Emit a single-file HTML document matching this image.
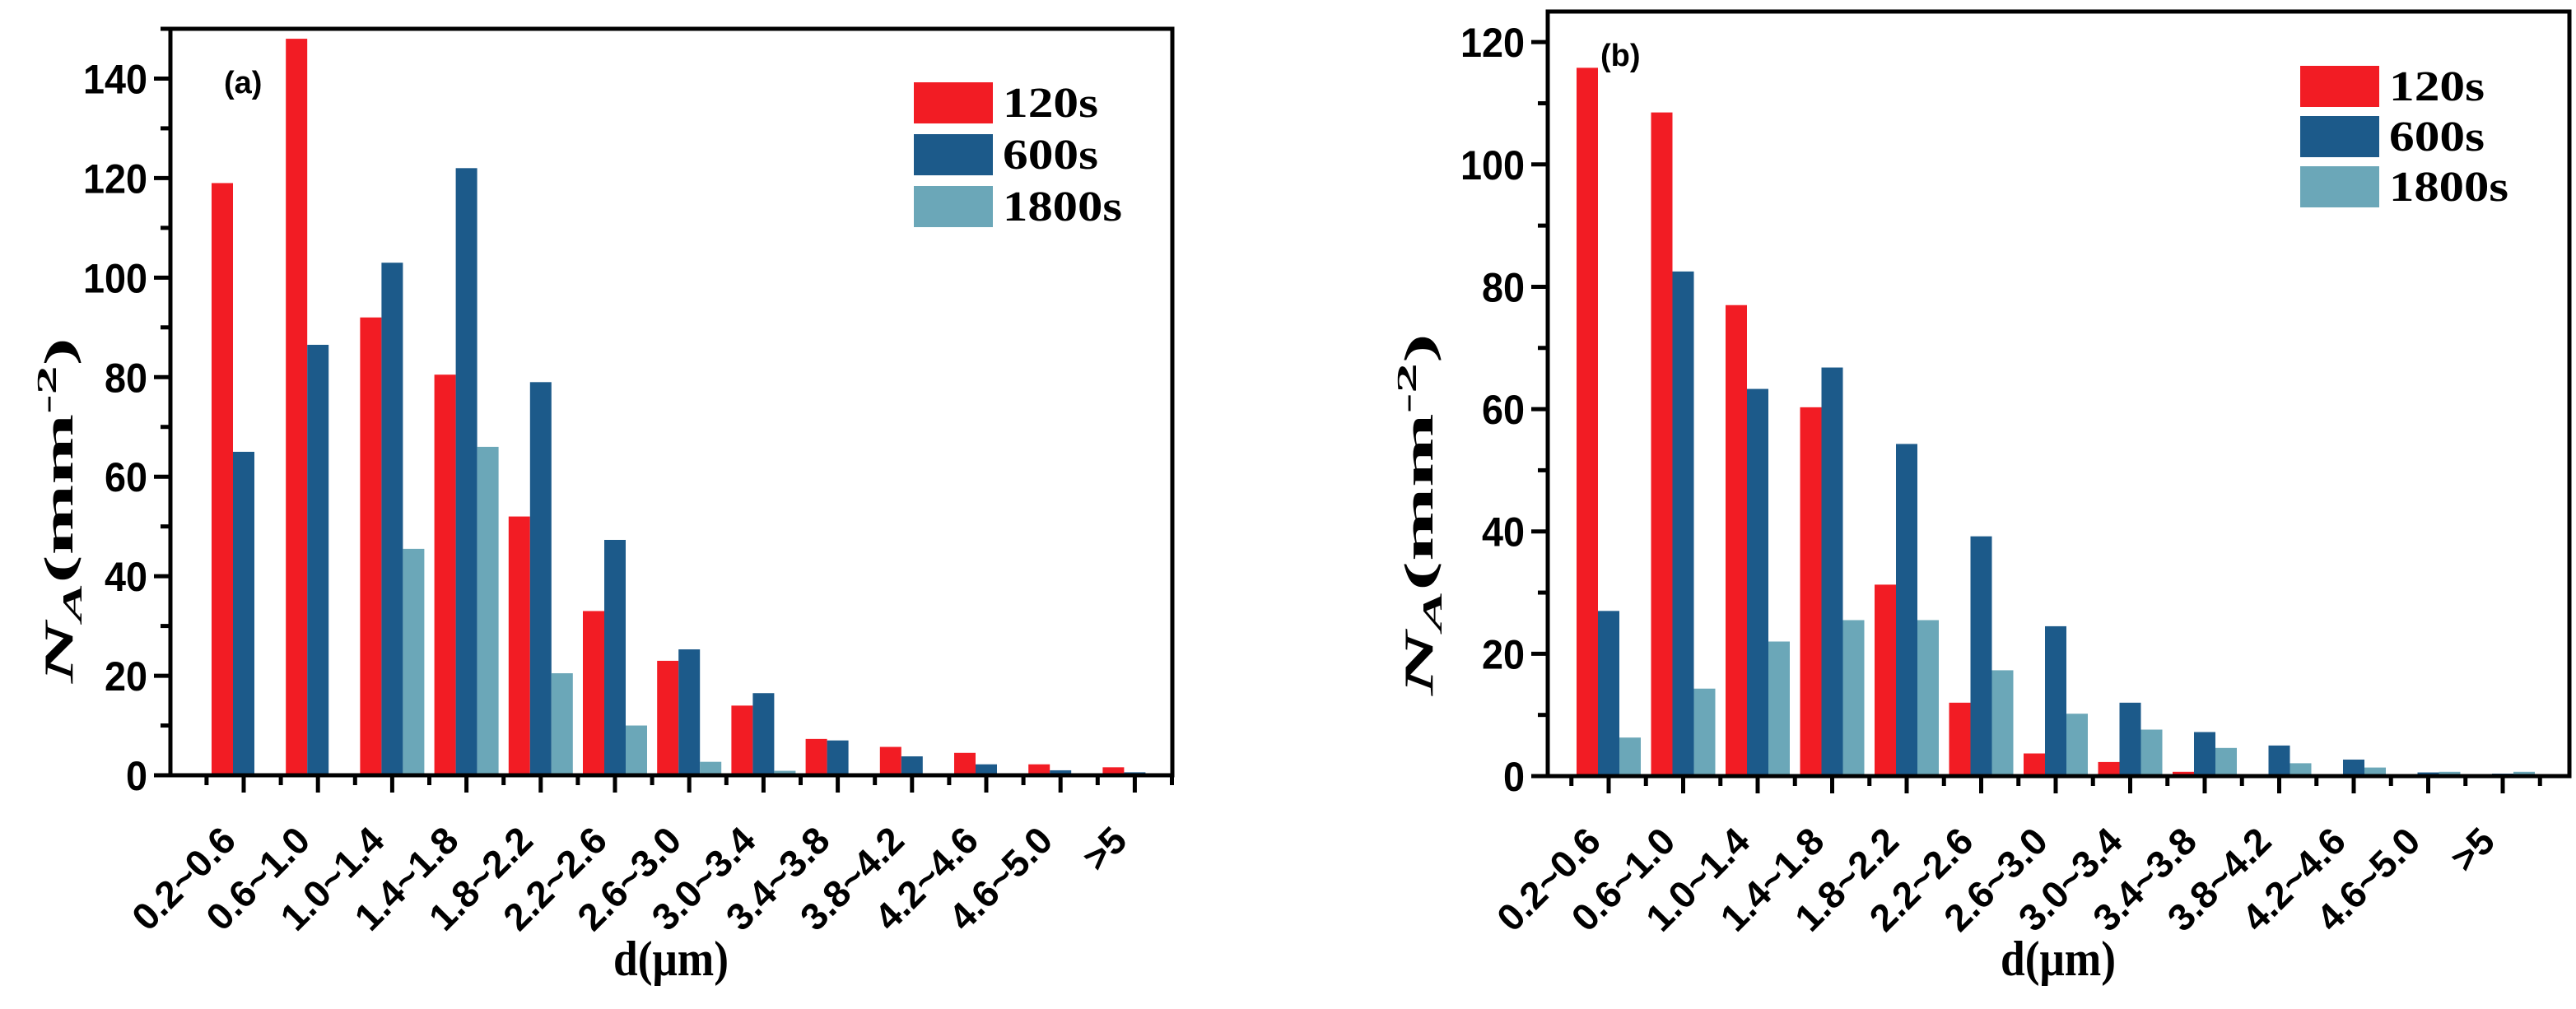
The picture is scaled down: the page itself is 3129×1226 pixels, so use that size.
<!DOCTYPE html>
<html><head><meta charset="utf-8"><style>
html,body{margin:0;padding:0;background:#fff;}
svg{display:block;}
</style></head><body>
<svg id="fig" width="3129" height="1226" viewBox="0 0 3129 1226" xmlns="http://www.w3.org/2000/svg"></svg>
<script>
const categories = ["0.2~0.6","0.6~1.0","1.0~1.4","1.4~1.8","1.8~2.2","2.2~2.6","2.6~3.0","3.0~3.4","3.4~3.8","3.8~4.2","4.2~4.6","4.6~5.0",">5"];
const seriesNames = ["120s","600s","1800s"];
const a120 = [119,148,92,80.5,52,33,23,14,7.3,5.7,4.5,2.2,1.6];
const a600 = [65,86.5,103,122,79,47.3,25.3,16.5,7,3.8,2.2,1,0.6];
const a1800 = [0,0,45.5,66,20.5,10,2.7,0.9,0.4,0,0,0,0];
const b120 = [115.8,108.5,77,60.3,31.3,12,3.7,2.3,0.7,0,0,0,0];
const b600 = [27,82.5,63.3,66.8,54.3,39.2,24.5,12,7.2,5,2.7,0.6,0.4];
const b1800 = [6.3,14.3,22,25.5,25.5,17.3,10.2,7.6,4.6,2.1,1.4,0.7,0.7];
const aTicks = [0,20,40,60,80,100,120,140];
const bTicks = [0,20,40,60,80,100,120];
const colors = ["#f21c24","#1c5a8a","#6ba7b8"];

const NS="http://www.w3.org/2000/svg";
const svg=document.getElementById('fig');
function mk(tag,attrs,parent){const e=document.createElementNS(NS,tag);for(const k in attrs)e.setAttribute(k,attrs[k]);(parent||svg).appendChild(e);return e;}

function panel(cfg){
  const g=mk('g',{});
  
  
  const yS=v=>cfg.y0-(v/cfg.yMax)*(cfg.y0-cfg.top);
  const xC=i=>cfg.c0+i*cfg.step;
  cfg.series.forEach((vals,s)=>{
    vals.forEach((v,i)=>{
      if(v<=0)return;
      const x=xC(i)-39+s*26;
      const r=mk('rect',{x:x,y:yS(v),width:26,height:cfg.y0-yS(v),fill:colors[s]},g);
      
      
    });
  });
  const f=mk('rect',{x:cfg.left,y:cfg.top,width:cfg.right-cfg.left,height:cfg.y0-cfg.top,fill:'none',stroke:'#000','stroke-width':5},g);
  
  
  for(let v=0;v<=cfg.yMax;v+=10){
    const major=v%20===0;
    mk('line',{x1:cfg.left-(major?20:12),x2:cfg.left,y1:yS(v),y2:yS(v),stroke:'#000','stroke-width':5},g);
  }
  cfg.ticks.forEach(v=>{
    const t=mk('text',{x:cfg.left-28,y:yS(v)+18,'text-anchor':'end','font-family':'Liberation Sans, sans-serif','font-weight':'bold','font-size':50,textLength:(String(v).length*26),lengthAdjust:'spacingAndGlyphs'},g);
    t.textContent=v;
    
    
  });
  for(let i=0;i<categories.length;i++){
    mk('line',{x1:xC(i),x2:xC(i),y1:cfg.y0,y2:cfg.y0+21,stroke:'#000','stroke-width':5},g);
    mk('line',{x1:xC(i)-cfg.step/2,x2:xC(i)-cfg.step/2,y1:cfg.y0,y2:cfg.y0+12,stroke:'#000','stroke-width':5},g);
    const px=xC(i)-7, py=cfg.y0+82;
    const t=mk('text',{x:px,y:py,'text-anchor':'end','font-family':'Liberation Sans, sans-serif','font-weight':'bold','font-size':46,transform:'rotate(-45 '+px+' '+py+')'},g);
    t.textContent=categories[i];
    
    
  }
  mk('line',{x1:xC(categories.length)-cfg.step/2,x2:xC(categories.length)-cfg.step/2,y1:cfg.y0,y2:cfg.y0+12,stroke:'#000','stroke-width':5},g);
  const pl=mk('text',{x:cfg.lblX,y:cfg.lblY,'font-family':'Liberation Sans, sans-serif','font-weight':'bold','font-size':38},g);
  pl.textContent=cfg.label;
  
  
  seriesNames.forEach((n,s)=>{
    const y=cfg.legY+s*cfg.legStep;
    const r=mk('rect',{x:cfg.legX,y:y,width:96,height:50,fill:colors[s]},g);
    
    
    const t=mk('text',{x:cfg.legX+108,y:y+42,'font-family':'Liberation Serif, serif','font-weight':'bold','font-size':52,textLength:(n.length*29),lengthAdjust:'spacingAndGlyphs'},g);
    t.textContent=n;
    
    
  });
  const xt=mk('text',{x:cfg.xtX,y:1185,'text-anchor':'middle','font-family':'Liberation Serif, serif','font-weight':'bold','font-size':60,textLength:140,lengthAdjust:'spacingAndGlyphs'},g);
  xt.textContent='d(μm)';
  
  
  const yt=mk('text',{x:0,y:0,'text-anchor':'middle','font-family':'Liberation Serif, serif','font-weight':'bold','font-size':50,textLength:cfg.ytLen,lengthAdjust:'spacingAndGlyphs',transform:'translate('+cfg.ytX+' '+cfg.ytY+') rotate(-90)'},g);
  yt.innerHTML='<tspan font-style="italic">N</tspan><tspan font-style="italic" font-size="34" dy="11">A</tspan><tspan dy="-11">(mm</tspan><tspan font-size="34" dy="-20">-2</tspan><tspan dy="20">)</tspan>';
  
  
}

panel({id:'a',left:207,right:1424,top:35,y0:942,yMax:150,c0:296,step:90.2,series:[a120,a600,a1800],ticks:aTicks,label:'(a)',lblX:272,lblY:113,legX:1110,legY:100,legStep:63,xtX:815,ytX:88,ytY:620,ytLen:420});
panel({id:'b',left:1880,right:3121,top:14,y0:943,yMax:125,c0:1954,step:90.5,series:[b120,b600,b1800],ticks:bTicks,label:'(b)',lblX:1944,lblY:80,legX:2794,legY:80,legStep:61,xtX:2500,ytX:1740,ytY:625,ytLen:440});
</script>
</body></html>
